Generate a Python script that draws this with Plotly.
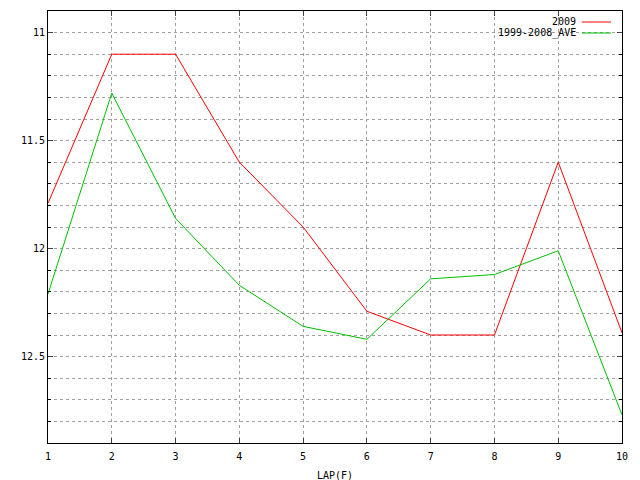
import plotly.graph_objects as go

# ラップ番号とタイム
laps = [1, 2, 3, 4, 5, 6, 7, 8, 9, 10]
y2009 = [11.79, 11.1, 11.1, 11.6, 11.9, 12.29, 12.4, 12.4, 11.6, 12.39]
yAve = [12.21, 11.28, 11.86, 12.17, 12.36, 12.42, 12.14, 12.12, 12.01, 12.77]

names = ['2009', '1999-2008_AVE']
colors = ['#ff0000', '#00c000']
fnt = dict(family='DejaVu Sans Mono', size=10, color='black')
grid = dict(color='#a0a0a0', width=1, dash='3px,3px')

fig = go.Figure()
for ys, name, c in zip([y2009, yAve], names, colors):
    fig.add_trace(go.Scatter(x=laps, y=ys, mode='lines', name=name,
                             line=dict(color=c, width=1), showlegend=False))

# 凡例 (gnuplot風: 文字の右に線)
for i, (name, c) in enumerate(zip(names, colors)):
    yy = 1 - (11 + 11 * i) / 432
    fig.add_annotation(x=530 / 574, y=yy, xref='paper', yref='paper', text=name,
                       showarrow=False, xanchor='right', yanchor='middle', font=fnt)
    fig.add_shape(type='line', xref='paper', yref='paper',
                  x0=534 / 574, x1=563 / 574, y0=yy, y1=yy,
                  line=dict(color=c, width=1))

fig.update_xaxes(range=[1, 10], dtick=1, tick0=1, ticks='inside', ticklen=5,
                 showline=True, linecolor='black', linewidth=1, mirror='ticks',
                 showgrid=True, gridcolor=grid['color'], griddash=grid['dash'],
                 zeroline=False, tickfont=fnt, automargin=False, ticklabelstandoff=4,
                 title=dict(text='LAP(F)', font=fnt, standoff=10))
fig.update_yaxes(range=[12.9, 10.9], tickvals=[11, 11.5, 12, 12.5], ticks='inside', ticklen=5,
                 showline=True, linecolor='black', linewidth=1, mirror='ticks',
                 showgrid=True, gridcolor=grid['color'], griddash=grid['dash'],
                 zeroline=False, tickfont=fnt, automargin=False,
                 minor=dict(dtick=0.1, tick0=10.9, ticks='inside', ticklen=3, tickcolor='black',
                            showgrid=True, gridcolor=grid['color'], griddash=grid['dash']))

# ページの余白8pxぶんずらす
fig.update_layout(width=640, height=480, plot_bgcolor='white', paper_bgcolor='white',
                  margin=dict(l=40, r=26, t=3, b=45), font=fnt)

fig.write_html("out.html")
